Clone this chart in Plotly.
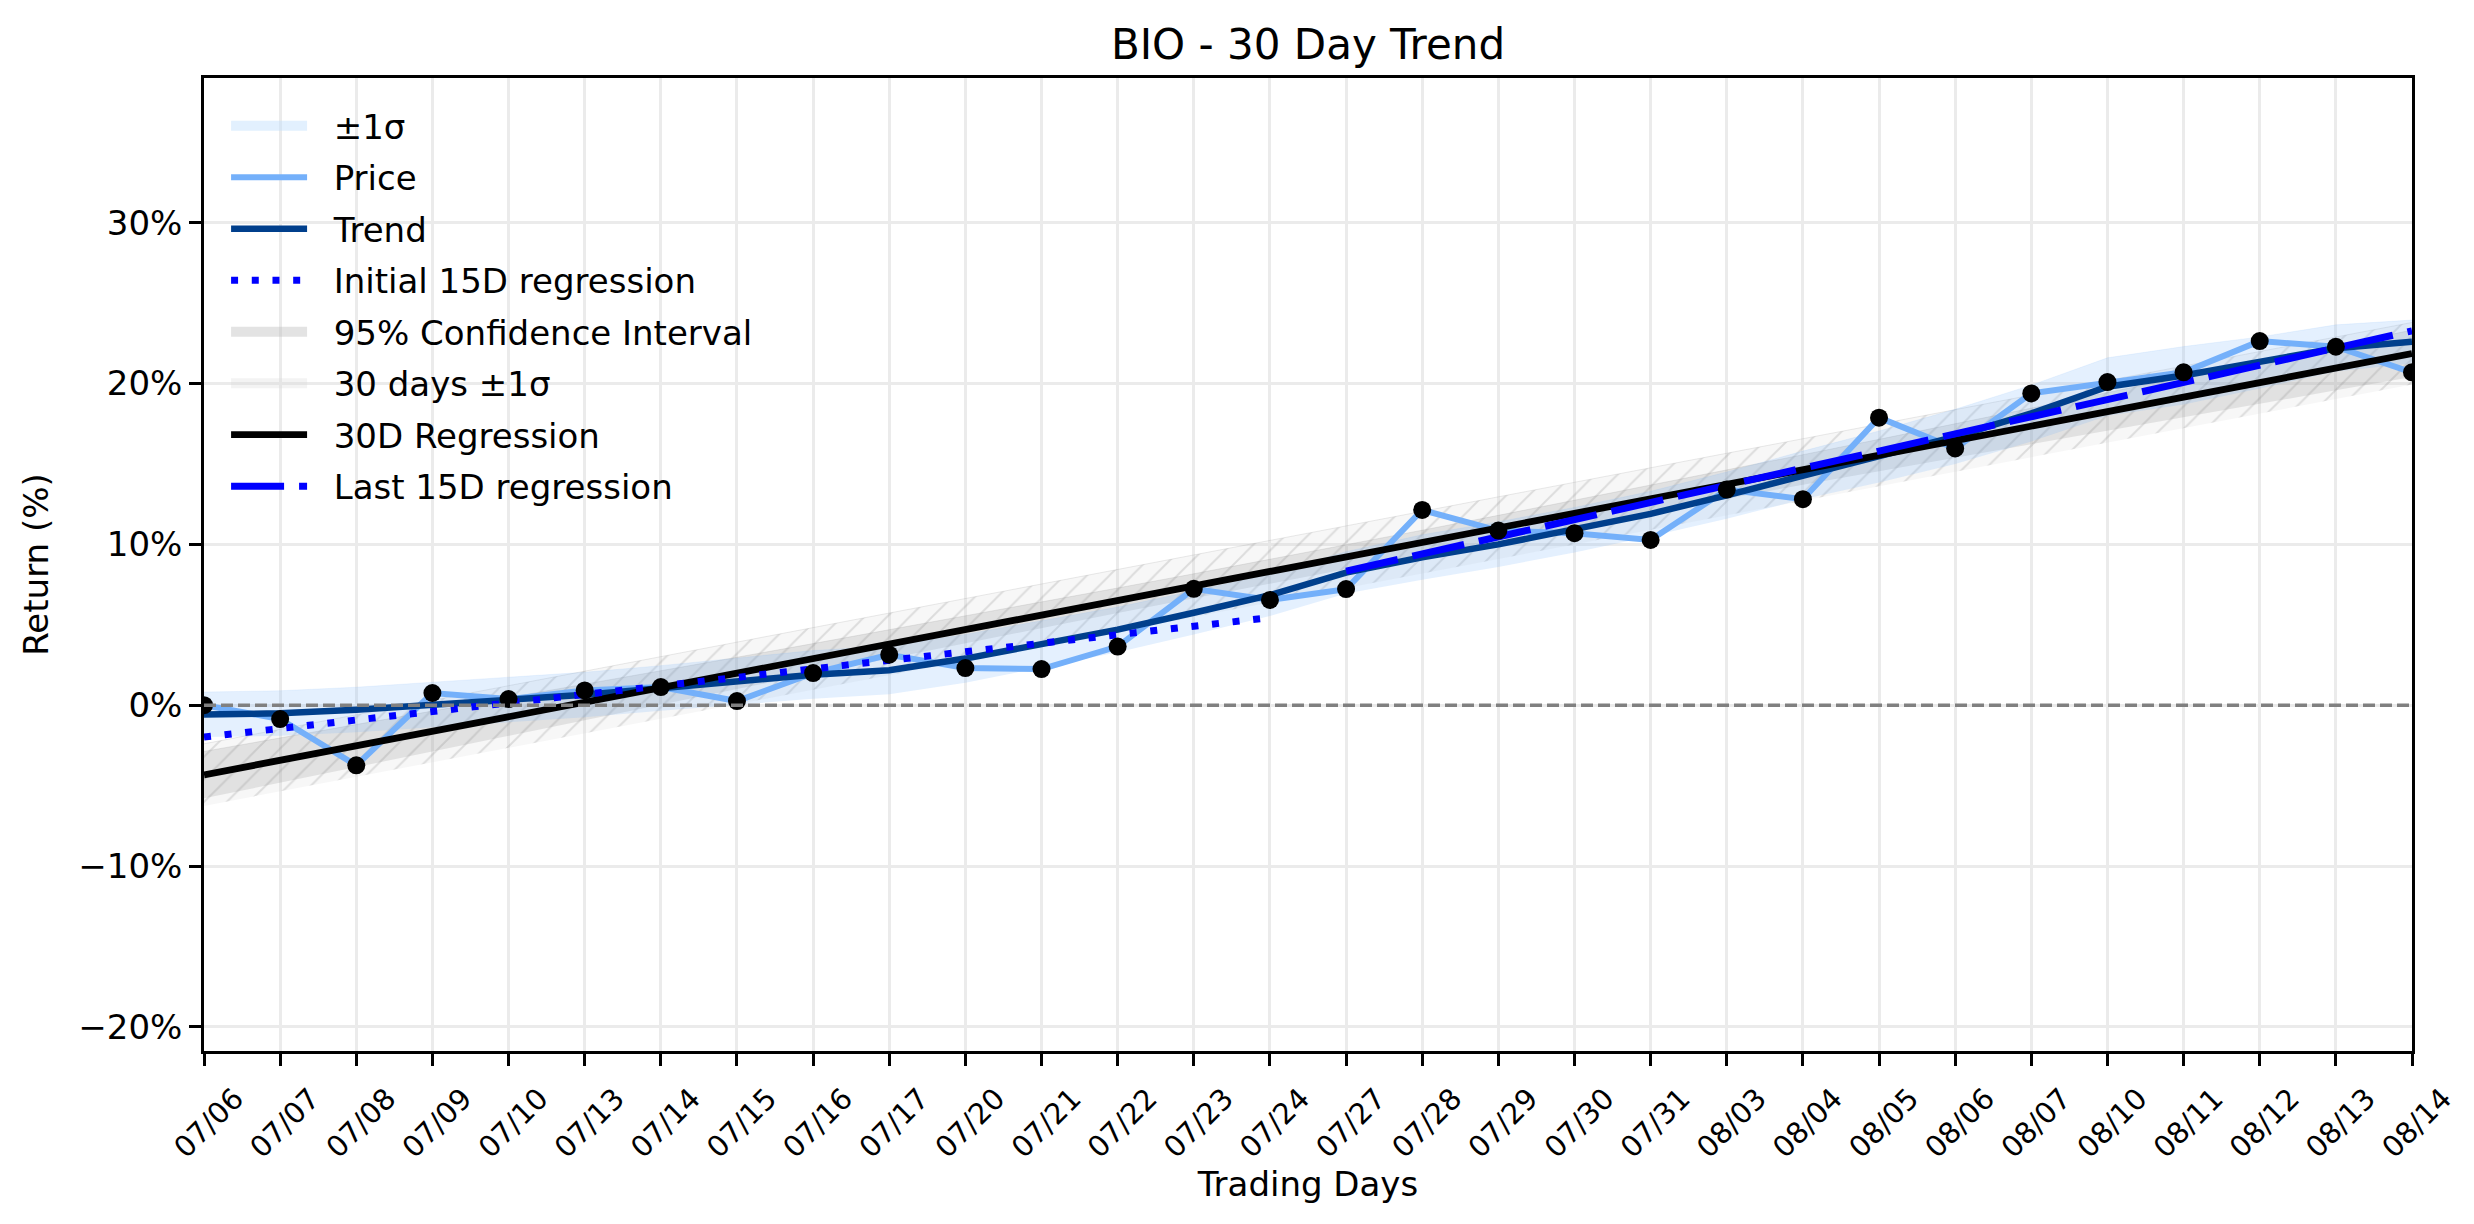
import numpy as np
import plotly.graph_objects as go

# ---------------- data ----------------
dates = ["07/06", "07/07", "07/08", "07/09", "07/10", "07/13", "07/14", "07/15",
         "07/16", "07/17", "07/20", "07/21", "07/22", "07/23", "07/24", "07/27",
         "07/28", "07/29", "07/30", "07/31", "08/03", "08/04", "08/05", "08/06",
         "08/07", "08/10", "08/11", "08/12", "08/13", "08/14"]

price = [0.0, -0.86, -3.74, 0.76, 0.38, 0.92, 1.13, 0.26, 2.0, 3.14,
         2.31, 2.25, 3.65, 7.24, 6.55, 7.22, 12.14, 10.86, 10.70, 10.28,
         13.41, 12.81, 17.88, 15.97, 19.39, 20.09, 20.70, 22.64, 22.29, 20.70]

trend = [-0.58, -0.50, -0.28, 0.03, 0.32, 0.65, 1.06, 1.49, 1.9, 2.18,
         2.9, 3.8, 4.7, 5.75, 6.85, 8.25, 9.2, 10.0, 10.9, 11.9,
         13.05, 14.3, 15.45, 16.7, 18.15, 19.8, 20.5, 21.3, 22.2, 22.6]

trend_sigma = [1.4, 1.4, 1.4, 1.4, 1.4, 1.4, 1.4, 1.45, 1.5, 1.5,
               1.5, 1.45, 1.4, 1.35, 1.3, 1.3, 1.4, 1.4, 1.4, 1.4,
               1.45, 1.5, 1.6, 1.7, 1.75, 1.8, 1.8, 1.6, 1.45, 1.35]

y_tick_vals = [-20, -10, 0, 10, 20, 30]
y_tick_text = ["\u221220%", "\u221210%", "0%", "10%", "20%", "30%"]

# ---------------- derived statistics ----------------
x = np.arange(len(price))
p = np.array(price)
n = len(p)

b1, b0 = np.polyfit(x, p, 1)
fit30 = b0 + b1 * x
resid = p - fit30
s_res = np.sqrt(np.sum(resid ** 2) / (n - 2))
sxx = np.sum((x - x.mean()) ** 2)
t975 = 2.048
ci_half = t975 * s_res * np.sqrt(1.0 / n + (x - x.mean()) ** 2 / sxx)
sig30 = np.std(resid)

xi = x[:15]
c1, c0 = np.polyfit(xi, p[:15], 1)
fit_init = c0 + c1 * xi

xl = x[15:]
d1, d0 = np.polyfit(xl, p[15:], 1)
fit_last = d0 + d1 * xl

tr = np.array(trend)
ts = np.array(trend_sigma)

FONT = "DejaVu Sans"
PRICE_C = "#74b0fa"
TREND_C = "#003f8c"
BAND_C = "rgba(120,180,250,0.2)"
CI_C = "rgba(128,128,128,0.18)"
HATCH_BG = "rgba(200,200,200,0.15)"
SP = "\u00a0\u00a0"  # gap between legend symbol and label

fig = go.Figure()

# 30 days ±1σ (hatched)
fig.add_trace(go.Scatter(x=x, y=fit30 - sig30, mode="lines", line=dict(width=0),
                         showlegend=False, hoverinfo="skip"))
fig.add_trace(go.Scatter(x=x, y=fit30 + sig30, mode="lines",
                         line=dict(width=0.8, color="rgba(150,150,150,0.25)"),
                         fill="tonexty", fillcolor=HATCH_BG,
                         fillpattern=dict(shape="/", fgcolor="rgba(140,140,140,1)", fgopacity=0.25,
                                          size=16, solidity=0.12, fillmode="overlay"),
                         showlegend=False, hoverinfo="skip"))

# 95% CI
fig.add_trace(go.Scatter(x=x, y=fit30 - ci_half, mode="lines", line=dict(width=0),
                         showlegend=False, hoverinfo="skip"))
fig.add_trace(go.Scatter(x=x, y=fit30 + ci_half, mode="lines",
                         line=dict(width=0.8, color="rgba(128,128,128,0.2)"),
                         fill="tonexty", fillcolor=CI_C, showlegend=False, hoverinfo="skip"))

# ±1σ around trend
fig.add_trace(go.Scatter(x=x, y=tr - ts, mode="lines", line=dict(width=0),
                         showlegend=False, hoverinfo="skip"))
fig.add_trace(go.Scatter(x=x, y=tr + ts, mode="lines",
                         line=dict(width=0.8, color="rgba(120,180,250,0.15)"),
                         fill="tonexty", fillcolor=BAND_C, showlegend=False, hoverinfo="skip"))

# Price
fig.add_trace(go.Scatter(x=x, y=p, mode="lines", line=dict(color=PRICE_C, width=6),
                         name=SP + "Price", legendrank=2, legendgroup="g2"))

# Trend
fig.add_trace(go.Scatter(x=x, y=tr, mode="lines", line=dict(color=TREND_C, width=6.5),
                         name=SP + "Trend", legendrank=3, legendgroup="g3"))

# 30D regression
fig.add_trace(go.Scatter(x=x, y=fit30, mode="lines", line=dict(color="black", width=6.8),
                         name=SP + "30D Regression", legendrank=7, legendgroup="g7"))

# Initial 15D regression
fig.add_trace(go.Scatter(x=xi, y=fit_init, mode="lines",
                         line=dict(color="#0000ff", width=7, dash="7px,13.7px"),
                         name=SP + "Initial 15D regression", legendrank=4, legendgroup="g4"))

# Last 15D regression
fig.add_trace(go.Scatter(x=xl, y=fit_last, mode="lines",
                         line=dict(color="#0000ff", width=7, dash="53px,15px"),
                         name=SP + "Last 15D regression", legendrank=8, legendgroup="g8"))

# dots
fig.add_trace(go.Scatter(x=x, y=p, mode="markers", marker=dict(color="black", size=18),
                         showlegend=False, hoverinfo="skip"))

# legend-only patch entries (no data drawn)
fig.add_trace(go.Scatter(x=[None], y=[None], mode="lines",
                         line=dict(color="rgba(190,222,252,0.45)", width=27),
                         name=SP + "\u00b11\u03c3", legendrank=1, legendgroup="g1"))
fig.add_trace(go.Scatter(x=[None], y=[None], mode="lines",
                         line=dict(color="rgba(185,185,185,0.4)", width=27),
                         name=SP + "95% Confidence Interval", legendrank=5, legendgroup="g5"))
fig.add_trace(go.Scatter(x=[None], y=[None], mode="lines",
                         line=dict(color="rgba(215,215,215,0.3)", width=27),
                         name=SP + "30 days \u00b11\u03c3", legendrank=6, legendgroup="g6"))

fig.add_shape(type="line", xref="paper", x0=0, x1=1, yref="y", y0=0, y1=0,
              line=dict(color="gray", width=3.4, dash="12px,5px"), layer="above")

fig.update_layout(
    width=2474, height=1224,
    margin=dict(l=204, r=62, t=78, b=173),
    paper_bgcolor="white", plot_bgcolor="white",
    font=dict(family=FONT, color="black", size=34),
    title=dict(text="BIO - 30 Day Trend", x=(204 + 2412) / 2 / 2474, xanchor="center",
               y=1 - 44 / 1224, yanchor="middle", yref="container",
               font=dict(family=FONT, size=42, color="black")),
    showlegend=True,
    legend=dict(x=0.01, y=0.9804, xanchor="left", yanchor="top",
                bgcolor="rgba(0,0,0,0)", borderwidth=0,
                font=dict(family=FONT, size=34, color="black"),
                tracegroupgap=4.3, itemwidth=76, traceorder="grouped"),
)

fig.update_xaxes(
    range=[0, 29], tickmode="array", tickvals=x, ticktext=dates,
    tickangle=-45, tickfont=dict(family=FONT, size=29),
    ticklabelshift=31, ticklabelstandoff=4,
    showgrid=True, gridcolor="#ebebeb", gridwidth=2.7,
    showline=True, linecolor="black", linewidth=2.7, mirror=True,
    ticks="outside", ticklen=12, tickwidth=2.7, tickcolor="black",
    zeroline=False,
    title=dict(text="Trading Days", font=dict(family=FONT, size=34), standoff=4),
)
fig.update_yaxes(
    range=[-21.5, 39.0], tickmode="array", tickvals=y_tick_vals, ticktext=y_tick_text,
    tickfont=dict(family=FONT, size=34),
    showgrid=True, gridcolor="#ebebeb", gridwidth=2.7,
    showline=True, linecolor="black", linewidth=2.7, mirror=True,
    ticks="outside", ticklen=12, tickwidth=2.7, tickcolor="black",
    zeroline=False,
    title=dict(text="Return (%)", font=dict(family=FONT, size=34), standoff=20),
)

fig.write_html("out.html", config={"displayModeBar": False})

with open("out.html", "r", encoding="utf-8") as f:
    html = f.read()
html = html.replace("<body>", "<body style=\"margin:0;padding:0;overflow:hidden\">", 1)
with open("out.html", "w", encoding="utf-8") as f:
    f.write(html)
